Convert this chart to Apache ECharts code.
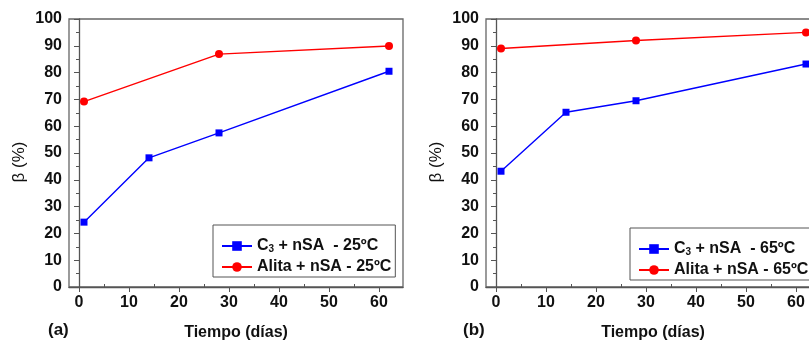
<!DOCTYPE html>
<html>
<head>
<meta charset="utf-8">
<script src="https://cdn.jsdelivr.net/npm/echarts@6/dist/echarts.min.js"></script>
<style>html,body{margin:0;padding:0;background:#fff}#c{width:809px;height:343px}</style>
</head>
<body>
<div id="c"></div>
<script>
// Data
const daysC3S = [1, 14, 28, 62];
const daysAlita = [1, 28, 62];
const c3s25 = [24.2, 48.2, 57.5, 80.5];
const alita25 = [69.2, 86.9, 89.9];
const c3s65 = [43.2, 65.2, 69.5, 83.2];
const alita65 = [89.0, 92.0, 95.0];
const xMajorTicks = [0, 10, 20, 30, 40, 50, 60];
const xMinorTicks = [5, 15, 25, 35, 45, 55];
const namesA = ['C3S + nSA  - 25ºC', 'Alita + nSA - 25ºC'];
const namesB = ['C3S + nSA  - 65ºC', 'Alita + nSA - 65ºC'];

const pair = (xs, ys) => xs.map((x, i) => [x, ys[i]]);
const FONT = 'Liberation Sans, Arial, sans-serif';
const AX = '#555';

function xAxes(gi) {
  return [{
    type: 'value', gridIndex: gi, min: -2, max: 64.8,
    name: 'Tiempo (días)', nameLocation: 'middle', nameGap: 38,
    nameTextStyle: {fontFamily: FONT, fontWeight: 'bold', fontSize: 16, color: '#111'},
    axisLine: {show: true, onZero: false, lineStyle: {color: AX, width: 1.3}},
    axisTick: {show: true, inside: false, length: 5, customValues: xMajorTicks, lineStyle: {color: AX}},
    axisLabel: {customValues: xMajorTicks, margin: 8, fontFamily: FONT, fontWeight: 'bold', fontSize: 16, color: '#111'},
    splitLine: {show: false}
  }, {
    type: 'value', gridIndex: gi, min: -2, max: 64.8,
    axisLine: {show: false},
    axisTick: {show: true, inside: false, length: 3, customValues: xMinorTicks, lineStyle: {color: AX}},
    axisLabel: {show: false},
    splitLine: {show: false}
  }];
}
function yAxis(gi) {
  return {
    type: 'value', gridIndex: gi, min: 0, max: 100, interval: 10,
    axisLine: {show: true, lineStyle: {color: AX, width: 1.3}},
    axisTick: {show: true, inside: false, length: 5, lineStyle: {color: AX}},
    minorTick: {show: true, splitNumber: 2, length: 3, lineStyle: {color: AX}},
    axisLabel: {margin: 7, fontFamily: FONT, fontWeight: 'bold', fontSize: 16, color: '#111'},
    splitLine: {show: false}
  };
}
function lineSeries(name, data, xi, yi, color, symbol) {
  return {
    type: 'line', name, data, xAxisIndex: xi, yAxisIndex: yi,
    symbol, symbolSize: symbol === 'circle' ? 8 : 7,
    lineStyle: {color, width: 1.4}, itemStyle: {color},
    emphasis: {disabled: true}, animation: false
  };
}
const rich = {
  a: {fontFamily: FONT, fontWeight: 'bold', fontSize: 16, lineHeight: 16, color: '#111', verticalAlign: 'top'},
  s: {fontFamily: FONT, fontWeight: 'bold', fontSize: 10, lineHeight: 10, color: '#111', verticalAlign: 'bottom', padding: [13, 0, 0, 0]}
};
function fmt(n) {
  if (n.startsWith('C3S')) return '{a|C}{s|3}{a|' + n.slice(3) + '}';
  return '{a|' + n + '}';
}
function legend(left, top, names) {
  return {
    orient: 'vertical', left, top, data: names,
    padding: [6, 4, 2, 8], itemGap: 5, itemWidth: 30, itemHeight: 12,
    borderColor: '#555', borderWidth: 1, backgroundColor: '#fff',
    formatter: fmt, textStyle: {rich, fontFamily: FONT, fontWeight: 'bold', fontSize: 16, color: '#111'},
    selectedMode: false
  };
}

const gridBase = {top: 19, width: 334, height: 268, show: true, borderColor: '#666', borderWidth: 1.3,
  containLabel: false, outerBoundsMode: 'none'};

const chart = echarts.init(document.getElementById('c'));
chart.setOption({
  backgroundColor: '#fff',
  animation: false,
  grid: [
    Object.assign({left: 69}, gridBase),
    Object.assign({left: 486}, gridBase)
  ],
  xAxis: [...xAxes(0), ...xAxes(1)],
  yAxis: [yAxis(0), yAxis(1)],
  legend: [legend(213, 225, namesA), legend(630, 228, namesB)],
  series: [
    lineSeries(namesA[0], pair(daysC3S, c3s25), 0, 0, '#0000ff', 'rect'),
    lineSeries(namesA[1], pair(daysAlita, alita25), 0, 0, '#ff0000', 'circle'),
    lineSeries(namesB[0], pair(daysC3S, c3s65), 2, 1, '#0000ff', 'rect'),
    lineSeries(namesB[1], pair(daysAlita, alita65), 2, 1, '#ff0000', 'circle')
  ],
  graphic: [
    {type: 'text', x: 19, y: 162, rotation: Math.PI / 2, style: {text: 'β (%)', font: '17px ' + FONT, fill: '#111', align: 'center', verticalAlign: 'middle'}},
    {type: 'text', x: 436, y: 162, rotation: Math.PI / 2, style: {text: 'β (%)', font: '17px ' + FONT, fill: '#111', align: 'center', verticalAlign: 'middle'}},
    {type: 'text', left: 48, top: 322, style: {text: '(a)', font: 'bold 17px ' + FONT, fill: '#111'}},
    {type: 'text', left: 463, top: 322, style: {text: '(b)', font: 'bold 17px ' + FONT, fill: '#111'}}
  ]
});
</script>
</body>
</html>
